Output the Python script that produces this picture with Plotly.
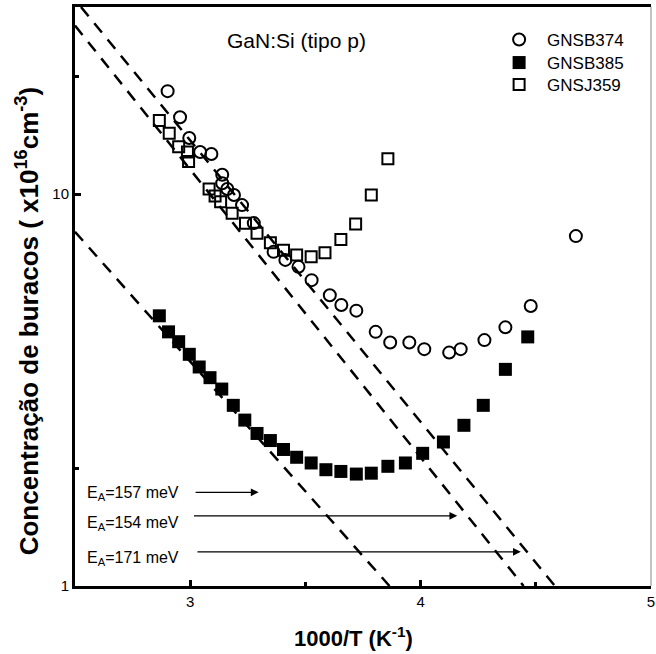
import numpy as np
import plotly.graph_objects as go

# ---------------- data ----------------
# GNSB374 (open circles)
x_gnsb374 = [2.902, 2.956, 2.996, 3.043, 3.092, 3.139, 3.139, 3.161, 3.190, 3.225,
             3.276, 3.362, 3.413, 3.470, 3.527, 3.606, 3.656, 3.721, 3.805, 3.868,
             3.951, 4.016, 4.124, 4.174, 4.277, 4.368, 4.478, 4.674]
y_gnsb374 = [18.3, 15.7, 13.9, 12.8, 12.65, 11.2, 10.65, 10.3, 9.94, 9.37,
             8.43, 7.12, 6.79, 6.52, 6.03, 5.52, 5.21, 5.04, 4.45, 4.18,
             4.18, 4.02, 3.94, 4.02, 4.24, 4.57, 5.18, 7.81]

# GNSB385 (filled squares)
x_gnsb385 = [2.866, 2.906, 2.950, 2.996, 3.039, 3.086, 3.137, 3.187, 3.237, 3.290,
             3.348, 3.405, 3.462, 3.525, 3.589, 3.654, 3.721, 3.786, 3.858, 3.934,
             4.009, 4.099, 4.188, 4.272, 4.368, 4.465]
y_gnsb385 = [4.89, 4.45, 4.20, 3.90, 3.62, 3.40, 3.18, 2.89, 2.65, 2.45,
             2.35, 2.23, 2.13, 2.06, 1.98, 1.96, 1.93, 1.94, 2.02, 2.06,
             2.18, 2.33, 2.57, 2.89, 3.57, 4.32]

# GNSJ359 (open squares)
x_gnsj359 = [2.866, 2.909, 2.950, 2.988, 2.993, 3.082, 3.108, 3.132, 3.182, 3.240,
             3.290, 3.348, 3.405, 3.462, 3.525, 3.585, 3.654, 3.718, 3.786, 3.858]
y_gnsj359 = [15.4, 14.3, 13.2, 12.8, 12.1, 10.3, 9.88, 9.56, 8.93, 8.42,
             7.94, 7.51, 7.19, 6.99, 6.92, 7.08, 7.66, 8.38, 9.94, 12.3]

# Arrhenius fit lines (dashed)
fit_x0 = [2.526, 2.500, 2.500]
fit_x1 = [4.583, 4.447, 3.865]
fit_y0 = [30.0, 26.9, 8.01]
fit_y1 = [1.0, 1.0, 1.0]

# Activation-energy labels and arrows
ea_labels = ["E<sub>A</sub>=157 meV", "E<sub>A</sub>=154 meV", "E<sub>A</sub>=171 meV"]
ea_label_x = [2.543, 2.543, 2.543]
ea_label_y = [1.724, 1.446, 1.177]
ea_arrow_x0 = [3.017, 3.010, 3.025]
ea_arrow_x1 = [3.297, 4.159, 4.435]
ea_arrow_y = [1.734, 1.51, 1.222]

x_ticks = [3, 4, 5]
y_ticks = [1, 10]
y_ticktext = ["1", "10"]

FONT = "Liberation Sans, Arial, Helvetica, sans-serif"

fig = go.Figure()

fig.add_trace(go.Scatter(
    x=x_gnsb374, y=y_gnsb374, mode="markers", name="GNSB374", legend="legend",
    marker=dict(symbol="circle-open", size=12, color="black",
                line=dict(width=2, color="black"))))
fig.add_trace(go.Scatter(
    x=x_gnsb385, y=y_gnsb385, mode="markers", name="GNSB385", legend="legend2",
    marker=dict(symbol="square", size=13, color="black")))
fig.add_trace(go.Scatter(
    x=x_gnsj359, y=y_gnsj359, mode="markers", name="GNSJ359", legend="legend3",
    marker=dict(symbol="square-open", size=11, color="black",
                line=dict(width=2, color="black"))))

for x0, x1, y0, y1 in zip(fit_x0, fit_x1, fit_y0, fit_y1):
    fig.add_trace(go.Scatter(
        x=[x0, x1], y=[y0, y1], mode="lines", showlegend=False,
        line=dict(color="black", width=2.5, dash="12px,9px"),
        hoverinfo="skip"))

annotations = []
for lab, lx, ly in zip(ea_labels, ea_label_x, ea_label_y):
    annotations.append(dict(
        x=lx, y=np.log10(ly), xref="x", yref="y", text=lab, showarrow=False,
        xanchor="left", yanchor="middle",
        font=dict(family=FONT, size=16, color="black")))
for x0, x1, ay in zip(ea_arrow_x0, ea_arrow_x1, ea_arrow_y):
    annotations.append(dict(
        x=x1, y=np.log10(ay), ax=x0, ay=np.log10(ay),
        xref="x", yref="y", axref="x", ayref="y", text="",
        showarrow=True, arrowhead=2, arrowsize=1.3, arrowwidth=1.2,
        arrowcolor="black"))

annotations.append(dict(
    x=(226 - 75) / 580, y=(586 - 41) / 579, xref="paper", yref="paper",
    text="GaN:Si (tipo p)", showarrow=False, xanchor="left", yanchor="middle",
    font=dict(family=FONT, size=21, color="black")))
annotations.append(dict(
    x=(27 - 75) / 580, y=(586 - 321) / 579, xref="paper", yref="paper",
    text="<b>Concentração de buracos ( x10<sup>16</sup>cm<sup>-3</sup>)</b>",
    textangle=-90, showarrow=False, xanchor="center", yanchor="middle",
    font=dict(family=FONT, size=26, color="black")))
annotations.append(dict(
    x=(355 - 75) / 580, y=(586 - 637) / 579, xref="paper", yref="paper",
    text="<b>1000/T (K<sup>-1</sup>)</b>", showarrow=False,
    xanchor="center", yanchor="middle",
    font=dict(family=FONT, size=22, color="black")))

legend_rows = [40, 63, 85]
leg_common = dict(x=(494 - 75) / 580, xanchor="left", yanchor="middle",
                  bgcolor="rgba(0,0,0,0)", itemwidth=46,
                  font=dict(family=FONT, size=17, color="black"))

fig.update_layout(
    width=656, height=654,
    margin=dict(l=75, r=1, t=7, b=68),
    paper_bgcolor="white", plot_bgcolor="white",
    font=dict(family=FONT, size=15, color="black"),
    showlegend=True,
    legend=dict(y=(586 - legend_rows[0]) / 579, **leg_common),
    legend2=dict(y=(586 - legend_rows[1]) / 579, **leg_common),
    legend3=dict(y=(586 - legend_rows[2]) / 579, **leg_common),
    annotations=annotations,
    shapes=[dict(type="line", xref="paper", yref="paper", x0=1, x1=1, y0=0, y1=1,
                 line=dict(color="#888888", width=1))],
)

fig.update_xaxes(
    range=[2.5, 5], tickvals=x_ticks, ticks="inside", ticklen=6, tickwidth=3,
    tickcolor="black", showline=True, linewidth=3, linecolor="black", mirror=True,
    showgrid=False, zeroline=False, ticklabeloverflow="allow",
    tickfont=dict(family=FONT, size=15, color="black"),
    minor=dict(tickvals=[3.5, 4.5], ticks="inside", ticklen=4, tickwidth=3,
               tickcolor="black", showgrid=False))
fig.update_yaxes(
    type="log", range=[0, np.log10(30)], tickvals=y_ticks, ticktext=y_ticktext,
    ticks="inside", ticklen=6, tickwidth=3, tickcolor="black",
    showline=True, linewidth=3, linecolor="black", mirror=False,
    showgrid=False, zeroline=False,
    tickfont=dict(family=FONT, size=15, color="black"),
    minor=dict(tickvals=[2, 20], ticks="inside", ticklen=4, tickwidth=3,
               tickcolor="black", showgrid=False))

fig.write_html("out.html")
